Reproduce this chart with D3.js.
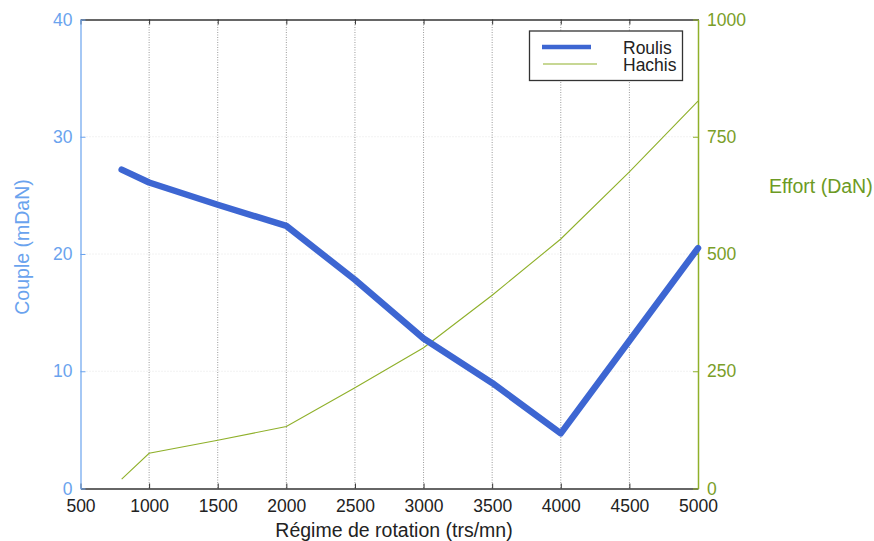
<!DOCTYPE html>
<html>
<head>
<meta charset="utf-8">
<script src="https://cdn.jsdelivr.net/npm/d3@7"></script>
<style>
  html, body { margin: 0; padding: 0; background: #fff; }
  svg { display: block; }
  text { font-family: "Liberation Sans", Arial, sans-serif; }
</style>
</head>
<body>
<svg id="chart" width="874" height="541"></svg>
<script>
// ---- data ----
const rpm = [800, 1000, 1500, 2000, 2500, 3000, 3500, 4000, 4500, 5000];
const roulis = [27.2, 26.1, 24.2, 22.4, 17.8, 12.8, 9.0, 4.7, 12.6, 20.5];
const hachis = [20, 75, 103, 132, 215, 300, 412, 532, 675, 826];
const xTicks = [500, 1000, 1500, 2000, 2500, 3000, 3500, 4000, 4500, 5000];
const leftTicks = [0, 10, 20, 30, 40];
const rightTicks = [0, 250, 500, 750, 1000];
const seriesNames = ["Roulis", "Hachis"];
const xTitle = "Régime de rotation (trs/mn)";
const leftTitle = "Couple (mDaN)";
const rightTitle = "Effort (DaN)";

// ---- layout ----
const L = 80.5, R = 698, T = 19.5, B = 488.5;
const blue = "#3d66d2", leftCol = "#6aa3ee", rightCol = "#8fb02a", rightText = "#7a9e28", dark = "#333";
const tickFont = "17.5px", titleFont = "19.5px";

const svg = d3.select("#chart");
const x = d3.scaleLinear().domain([500, 5000]).range([L, R]);
const yL = d3.scaleLinear().domain([0, 40]).range([B, T]);
const yR = d3.scaleLinear().domain([0, 1000]).range([B, T]);

// horizontal faint gridlines
svg.append("g").selectAll("line").data(leftTicks.slice(1, -1)).join("line")
  .attr("x1", L).attr("x2", R).attr("y1", d => yL(d)).attr("y2", d => yL(d))
  .attr("stroke", "#e4e4e4").attr("stroke-width", 1).attr("stroke-dasharray", "1,2");
// vertical dotted gridlines
svg.append("g").selectAll("line").data(xTicks.slice(1, -1)).join("line")
  .attr("x1", d => x(d)).attr("x2", d => x(d)).attr("y1", T).attr("y2", B)
  .attr("stroke", "#9a9a9a").attr("stroke-width", 1).attr("stroke-dasharray", "1,1.5");

// bottom axis
const xAxis = d3.axisBottom(x).tickValues(xTicks).tickSizeInner(-5).tickSizeOuter(0).tickPadding(11.5).tickFormat(d3.format("d"));
const gx = svg.append("g").attr("transform", `translate(0,${B})`).call(xAxis);
gx.select(".domain").attr("stroke", dark).attr("stroke-width", 1.5);
gx.selectAll(".tick line").attr("stroke", dark);
gx.selectAll("text").attr("fill", "#222").style("font-size", tickFont);

// top axis (frame)
const gt = svg.append("g").attr("transform", `translate(0,${T})`)
  .call(d3.axisTop(x).tickValues(xTicks).tickSizeInner(-5).tickSizeOuter(0).tickFormat(""));
gt.select(".domain").attr("stroke", dark).attr("stroke-width", 1.5);
gt.selectAll(".tick line").attr("stroke", dark);

// left axis
const gl = svg.append("g").attr("transform", `translate(${L},0)`)
  .call(d3.axisLeft(yL).tickValues(leftTicks).tickSizeInner(-5).tickSizeOuter(0).tickPadding(8).tickFormat(d3.format("d")));
gl.select(".domain").attr("stroke", leftCol).attr("stroke-width", 1.2);
gl.selectAll(".tick line").attr("stroke", leftCol);
gl.selectAll("text").attr("fill", leftCol).style("font-size", tickFont);

// right axis
const gr = svg.append("g").attr("transform", `translate(${R},0)`)
  .call(d3.axisRight(yR).tickValues(rightTicks).tickSizeInner(-5).tickSizeOuter(0).tickPadding(9).tickFormat(d3.format("d")));
gr.select(".domain").attr("stroke", rightCol).attr("stroke-width", 1.5);
gr.selectAll(".tick line").attr("stroke", rightCol);
gr.selectAll("text").attr("fill", rightText).style("font-size", tickFont);

// lines
const lineL = d3.line().x((d, i) => x(rpm[i])).y(d => yL(d));
const lineR = d3.line().x((d, i) => x(rpm[i])).y(d => yR(d));
svg.append("path").datum(hachis).attr("d", lineR)
  .attr("fill", "none").attr("stroke", rightCol).attr("stroke-width", 1.1);
svg.append("path").datum(roulis).attr("d", lineL)
  .attr("fill", "none").attr("stroke", blue).attr("stroke-width", 6.5)
  .attr("stroke-linejoin", "round").attr("stroke-linecap", "round");

// titles
svg.append("text").attr("x", 394).attr("y", 537).attr("text-anchor", "middle")
  .attr("fill", "#222").style("font-size", titleFont).text(xTitle);
svg.append("text").attr("transform", "translate(29,247) rotate(-90)").attr("text-anchor", "middle")
  .attr("fill", leftCol).style("font-size", titleFont).text(leftTitle);
svg.append("text").attr("x", 769).attr("y", 193).attr("text-anchor", "start")
  .attr("fill", "#6c9a24").style("font-size", titleFont).text(rightTitle);

// legend
const lg = svg.append("g");
lg.append("rect").attr("x", 529.5).attr("y", 31).attr("width", 153).attr("height", 49.5)
  .attr("fill", "#fff").attr("stroke", dark).attr("stroke-width", 1.3);
const legStyles = [{c: blue, w: 4.5, x1: 542, x2: 591, y: 47}, {c: rightCol, w: 1.2, x1: 543, x2: 597, y: 64}];
seriesNames.forEach((n, i) => {
  const s = legStyles[i];
  lg.append("line").attr("x1", s.x1).attr("x2", s.x2).attr("y1", s.y).attr("y2", s.y)
    .attr("stroke", s.c).attr("stroke-width", s.w);
  lg.append("text").attr("x", 623).attr("y", 54 + i * 17).attr("fill", "#222")
    .style("font-size", "17.5px").text(n);
});
</script>
</body>
</html>
